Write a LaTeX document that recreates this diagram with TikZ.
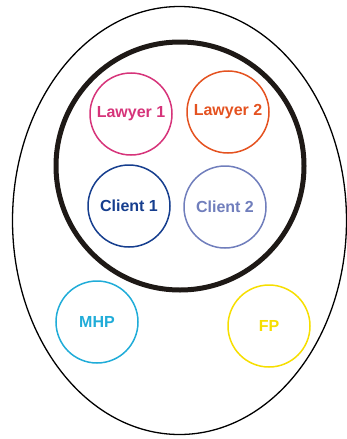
\documentclass[tikz,border=0pt]{standalone}
\usepackage{fontspec}
\setmainfont{Liberation Sans}
\definecolor{cLawA}{RGB}{214,52,122}
\definecolor{cLawB}{RGB}{228,82,32}
\definecolor{cCliA}{RGB}{22,62,142}
\definecolor{cCliB}{RGB}{112,126,188}
\definecolor{cMHP}{RGB}{32,172,216}
\definecolor{cFP}{RGB}{246,222,0}
\begin{document}
\begin{tikzpicture}[x=1pt,y=-1pt,
  party/.style={circle,draw,line width=1.5pt,minimum size=82pt,inner sep=0pt,
    font=\fontsize{16}{17}\selectfont\bfseries}]
\useasboundingbox (0,0) rectangle (347,439);
\draw[line width=1.3pt] (179.5,220.5) ellipse [x radius=167, y radius=214];
\draw[line width=5pt,color={rgb,255:red,30;green,25;blue,22}] (180,166) circle [radius=124];
\node[party,draw=cLawA,text=cLawA] (l1) at (131,114) {Lawyer 1};
\node[party,draw=cLawB,text=cLawB] (l2) at (228,112) {Lawyer 2};
\node[party,draw=cCliA,text=cCliA] (c1) at (129,206) {Client 1};
\node[party,draw=cCliB,text=cCliB] (c2) at (225,207) {Client 2};
\node[party,draw=cMHP,text=cMHP] (mhp) at (97,322) {MHP};
\node[party,draw=cFP,text=cFP] (fp) at (269,326) {FP};
\end{tikzpicture}
\end{document}
